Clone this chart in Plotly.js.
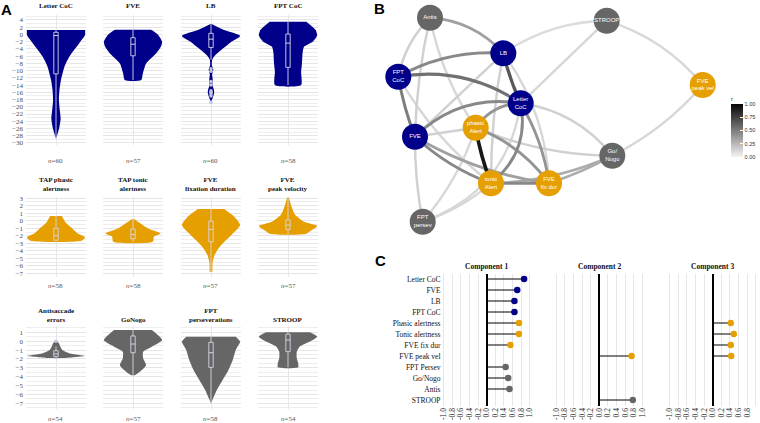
<!DOCTYPE html>
<html><head><meta charset="utf-8">
<script src="https://cdn.plot.ly/plotly-3.0.1.min.js"></script>
<style>body{margin:0;background:#fff}</style>
</head><body><div id="chart" style="width:760px;height:423px"></div>
<script>
// ================= Panel A data =================
const violinTitles = ["Letter CoC","FVE","LB","FPT CoC",
  "TAP phasic<br>alertness","TAP tonic<br>alertness","FVE<br>fixation duration","FVE<br>peak velocity",
  "Antisaccade<br>errors","GoNogo","FPT<br>perseverations","STROOP"];
const violinN = [60,57,60,58,58,58,57,57,54,57,58,54];
const violinGroup = [0,0,0,0,1,1,1,1,2,2,2,2];

// density outlines: value levels (top→bottom) and relative half-width
const letterCocLevels = [1.2,0,-0.6,-2.4,-6.1,-8.9,-12.6,-15.3,-18.1,-20.9,-23.2,-25.5,-27.3,-28.8];
const letterCocWidth  = [1.0,1.0,0.97,0.8,0.46,0.29,0.17,0.12,0.1,0.13,0.16,0.12,0.06,0.0];
const fveLevels = [1.3,0,-2.0,-3.5,-5.2,-8,-10.7,-12.6];
const fveWidth  = [0.62,0.85,1.0,0.95,0.8,0.45,0.34,0.28];
const lbLevels = [2.9,1.2,-0.4,-2,-4.3,-5.7,-7,-8.5,-9.7,-11,-12.5,-14,-15.3,-16.1,-17.5,-18.6];
const lbWidth  = [0.02,0.45,1.0,0.7,0.35,0.15,0.04,0.03,0.08,0.04,0.06,0.05,0.1,0.11,0.06,0.0];
const fptCocLevels = [3.5,1.2,-0.3,-2,-3.4,-5.2,-8,-10.3,-14];
const fptCocWidth  = [0.63,0.95,1.0,0.85,0.55,0.5,0.48,0.45,0.45];
const phasicLevels = [0.63,-0.35,-1.0,-1.7,-2.2,-2.66];
const phasicWidth  = [0.2,0.35,0.55,0.75,1.0,0.88];
const tonicLevels = [0.2,-0.35,-1.0,-1.7,-2.1,-2.8];
const tonicWidth  = [0.05,0.25,0.5,0.95,0.72,0.68];
const fixDurLevels = [1.56,0.53,-0.57,-1.9,-3.46,-4.6,-5.7,-6.8];
const fixDurWidth  = [0.45,0.8,1.0,0.7,0.3,0.12,0.05,0.04];
const peakVelLevels = [3.1,1.86,0.76,-0.13,-0.7,-1.3,-1.77];
const peakVelWidth  = [0.03,0.12,0.25,0.55,1.0,0.8,0.6];
const antisLevels = [0.0,-0.24,-0.62,-1.0,-1.36,-1.55,-1.67,-1.8,-1.9];
const antisWidth  = [0.03,0.1,0.15,0.22,0.45,0.8,1.0,0.6,0.25];
const goNogoLevels = [1.26,0.13,-0.62,-1.18,-1.93,-2.7,-3.25,-3.8];
const goNogoWidth  = [0.65,1.0,0.65,0.35,0.35,0.45,0.3,0.08];
const persevLevels = [0.51,-0.05,-1.0,-2.1,-3.25,-4.37,-5.5,-6.4,-7.0];
const persevWidth  = [0.85,1.0,0.85,0.75,0.6,0.4,0.2,0.08,0.0];
const stroopLevels = [1.0,0.5,-0.05,-0.62,-1.2,-1.93,-2.5,-2.95];
const stroopWidth  = [0.75,1.0,0.75,0.4,0.3,0.3,0.35,0.35];

const densityLevels = [letterCocLevels,fveLevels,lbLevels,fptCocLevels,phasicLevels,tonicLevels,
  fixDurLevels,peakVelLevels,antisLevels,goNogoLevels,persevLevels,stroopLevels];
const densityWidths = [letterCocWidth,fveWidth,lbWidth,fptCocWidth,phasicWidth,tonicWidth,
  fixDurWidth,peakVelWidth,antisWidth,goNogoWidth,persevWidth,stroopWidth];

// box statistics
const boxQ3  = [0.6,-0.9,0.3,0.1,-1.0,-1.1,-0.04,0.1,-1.07,0.59,-0.13,0.78];
const boxMed = [-0.3,-2.7,-1.3,-2.4,-2.0,-1.85,-1.15,-0.57,-1.44,-0.32,-1.3,0.13];
const boxQ1  = [-10.9,-5.9,-3.6,-9.1,-2.6,-2.4,-2.8,-1.15,-1.74,-1.3,-2.95,-1.18];
const boxLo  = [-28.8,-12.6,-7,-14,-2.66,-2.8,-6.8,-1.77,-1.9,-3.8,-7.0,-2.95];
const boxHi  = [1.2,1.3,2.9,3.5,0.63,0.2,1.56,3.1,-0.6,1.26,0.51,1.0];
const lbOutliers = [-9.5,-10.2,-13,-14,-15.6,-16,-16.4,-17,-18.8];
const antisOutliers = [0.0];

// ================= Panel B data =================
const nodeLabels = ["Antis","LB","FPT<br>CoC","Letter<br>CoC","phasic<br>Alert","FVE","tonic<br>Alert",
  "FVE<br>fix dur","FPT<br>persev","STROOP","FVE<br>peak vel","Go/<br>Nogo"];
const nodeX = [430,503.3,398.3,520.7,475.7,415,491,549,422.7,606.7,702.7,612.3];
const nodeY = [17.7,53.3,76.7,103.3,127.7,136.7,183.3,183.3,221.7,20.7,85,155.7];
const nodeGroup = [2,0,0,0,1,0,1,1,2,2,1,2];
const edgeFrom = [1,2,2,2,5,3,4,3,3,4,6,6,7,3,5,5,5,5,8,8,8,0,0,0,0,1,3,9,11,4,1,1,2,5];
const edgeTo   = [3,3,1,5,3,4,6,6,7,7,7,11,11,11,6,7,4,8,6,4,3,1,2,5,4,9,9,10,10,11,6,7,6,1];
const edgeR    = [0.65,0.55,0.45,0.5,0.45,0.4,0.92,0.45,0.4,0.4,0.45,0.3,0.3,0.15,0.45,0.35,0.15,0.15,0.12,0.12,0.12,0.35,0.15,0.15,0.12,0.1,0.12,0.12,0.12,0.15,0.15,0.12,0.12,0.15];
const edgeCurve= [0.05,-0.2,-0.15,0.05,-0.25,0.25,0.05,-0.3,-0.1,-0.15,0,0.1,0.05,-0.2,0.1,0.1,0,0.05,0.1,0.1,0.3,-0.2,0.15,0.05,0.1,-0.15,0,-0.15,0.1,0.1,0.05,-0.15,0.1,0];

// ================= Panel C data =================
const loadingLabels = ["Letter CoC","FVE","LB","FPT CoC","Phasic alertness","Tonic alertness",
  "FVE fix dur","FVE peak vel","FPT Persev","Go/Nogo","Antis","STROOP"];
const loadingGroup = [0,0,0,0,1,1,1,1,2,2,2,2];
const component1 = [0.87,0.71,0.645,0.645,0.75,0.75,0.55,null,0.44,0.5,0.53,null];
const component2 = [null,null,null,null,null,null,null,0.75,null,null,null,0.78];
const component3 = [null,null,null,null,0.42,0.49,0.42,0.43,null,null,null,null];
const componentTitles = ["Component 1","Component 2","Component 3"];
const loadingTicks = [-1,-0.8,-0.6,-0.4,-0.2,0,0.2,0.4,0.6,0.8,1];

// ================= build =================
const W = 760, H = 423;
const groupColors = ["#00008B","#E69F00","#666666"];
const serif = "Liberation Serif, Times New Roman, serif";
const sans = "Liberation Sans, Arial, sans-serif";
const fx = (a,b) => [a/W, b/W];
const fy = (t,b) => [1-b/H, 1-t/H];

const traces = [];
const layout = {width:W, height:H, margin:{l:0,r:0,t:0,b:0}, showlegend:false,
  paper_bgcolor:"#fff", plot_bgcolor:"rgba(0,0,0,0)", annotations:[], shapes:[]};

const colPx = [[26,86],[103,163],[181,241],[258,318]];
const rowPx = [[15,145],[197,277],[326,409]];
const rowRange = [[-30.57,5.38],[-7.49,3.16],[-7.64,1.71]];
const rowDtick = [2,1,1];
const titleBottomPx = [12,195,326];
const nY = [161,286,419];
const boxLine = "#d6d6e6";
const bw = 0.075;

for (let i=0;i<12;i++){
  const r = Math.floor(i/4), c = i%4, k = i+1;
  const xa = "x"+k, ya = "y"+k;
  const col = groupColors[violinGroup[i]];
  layout["xaxis"+k] = {domain:fx(...colPx[c]), range:[-1.03,1.03], anchor:ya,
    tickvals:[0], showticklabels:false, showgrid:true, gridcolor:"#e6e6e6", gridwidth:1,
    zeroline:false, showline:false, ticks:"", fixedrange:true};
  layout["yaxis"+k] = {domain:fy(...rowPx[r]), range:rowRange[r], anchor:xa,
    tick0:0, dtick:rowDtick[r], showgrid:true, gridcolor:"#e6e6e6", gridwidth:1,
    minor:{dtick:rowDtick[r]/2, showgrid:true, gridcolor:"#eeeeee", gridwidth:1},
    zeroline:false, showline:false, ticks:"", showticklabels:c===0,
    tickfont:{family:serif,size:7,color:"#4d4d4d"}, ticklabelstandoff:2, fixedrange:true};
  const lv = densityLevels[i], wd = densityWidths[i];
  const xs = wd.concat(wd.slice().reverse().map(v=>-v));
  const ys = lv.concat(lv.slice().reverse());
  traces.push({type:"scatter",mode:"lines",x:xs,y:ys,fill:"toself",fillcolor:col,
    line:{width:0,color:col,shape:"spline",smoothing:0.6},xaxis:xa,yaxis:ya,hoverinfo:"skip"});
  // box plot drawn on the same scales
  traces.push({type:"scatter",mode:"lines",x:[0,0,null,0,0],y:[boxHi[i],boxQ3[i],null,boxQ1[i],boxLo[i]],
    line:{color:boxLine,width:0.9},xaxis:xa,yaxis:ya,hoverinfo:"skip"});
  traces.push({type:"scatter",mode:"lines",x:[-bw,bw,bw,-bw,-bw],y:[boxQ1[i],boxQ1[i],boxQ3[i],boxQ3[i],boxQ1[i]],
    fill:"toself",fillcolor:col,line:{color:boxLine,width:0.9},xaxis:xa,yaxis:ya,hoverinfo:"skip"});
  traces.push({type:"scatter",mode:"lines",x:[-bw,bw],y:[boxMed[i],boxMed[i]],
    line:{color:boxLine,width:1},xaxis:xa,yaxis:ya,hoverinfo:"skip"});
  let outl = i===2 ? lbOutliers : (i===8 ? antisOutliers : null);
  if (outl) traces.push({type:"scatter",mode:"markers",x:outl.map(()=>0),y:outl,
    marker:{size:3.5,color:"#c4c4dc"},xaxis:xa,yaxis:ya,hoverinfo:"skip"});
  const cx = (colPx[c][0]+colPx[c][1])/2/W;
  layout.annotations.push({text:"<b>"+violinTitles[i]+"</b>",xref:"paper",yref:"paper",
    x:cx,y:1-titleBottomPx[r]/H,xanchor:"center",yanchor:"bottom",showarrow:false,
    font:{family:serif,size:7,color:"#111"}});
  layout.annotations.push({text:"<i>n</i>=" + violinN[i],xref:"paper",yref:"paper",
    x:cx,y:1-nY[r]/H,xanchor:"center",yanchor:"middle",showarrow:false,
    font:{family:serif,size:7,color:"#555"}});
}

// ---- Panel B network ----
const nb = 13;
layout["xaxis"+nb] = {domain:fx(330,760), range:[330,760], anchor:"y"+nb, visible:false, fixedrange:true};
layout["yaxis"+nb] = {domain:fy(0,250), range:[250,0], anchor:"x"+nb, visible:false, fixedrange:true};
const greyScale = [[0,"#f4f4f4"],[1,"#050505"]];
function greyOf(r){ const v = Math.round(244 - r*(244-5)); return `rgb(${v},${v},${v})`; }
const order = edgeR.map((r,i)=>i).sort((a,b)=>edgeR[a]-edgeR[b]);
for (const e of order){
  const a = edgeFrom[e], b = edgeTo[e];
  const x0=nodeX[a], y0=nodeY[a], x1=nodeX[b], y1=nodeY[b];
  const dx=x1-x0, dy=y1-y0, L=Math.hypot(dx,dy);
  const px=-dy/L, py=dx/L, k=edgeCurve[e]*L;
  const cx=(x0+x1)/2+px*k, cy=(y0+y1)/2+py*k;
  layout.shapes.push({type:"path",xref:"x"+nb,yref:"y"+nb,layer:"below",
    path:`M ${x0},${y0} Q ${cx},${cy} ${x1},${y1}`,
    line:{color:greyOf(edgeR[e]),width:2.2+1.6*edgeR[e]}});
}
traces.push({type:"scatter",mode:"markers+text",x:nodeX,y:nodeY,text:nodeLabels,
  textposition:"middle center",textfont:{family:sans,size:6,color:"#ffffff"},
  marker:{size:26,color:nodeGroup.map(g=>groupColors[g]),line:{width:0}},
  xaxis:"x"+nb,yaxis:"y"+nb,hoverinfo:"skip",cliponaxis:false});
traces.push({type:"scatter",mode:"markers",x:[0],y:[-999],xaxis:"x"+nb,yaxis:"y"+nb,
  marker:{size:1,color:[0],cmin:0,cmax:1,colorscale:greyScale,showscale:true,
    colorbar:{x:731/W,xanchor:"left",y:1-125/H,yanchor:"middle",len:64/H,lenmode:"fraction",
      thickness:12,outlinewidth:0,xpad:0,ypad:0,tickvals:[0,0.25,0.5,0.75,1],
      ticktext:["0.00","0.25","0.50","0.75","1.00"],ticks:"inside",ticklen:3,tickcolor:"#ffffff",
      tickfont:{family:sans,size:5.5,color:"#333"},
      title:{text:"r",side:"top",font:{family:sans,size:6,color:"#333"}}}},hoverinfo:"skip"});

// ---- Panel C lollipops ----
const comps = [component1,component2,component3];
const zeroPx = [486.7,599.3,712.7];
const unitPx = 43;
for (let j=0;j<3;j++){
  const k = 14+j, xa="x"+k, ya="y"+k;
  layout["xaxis"+k] = {domain:fx(zeroPx[j]-1.05*unitPx, zeroPx[j]+1.05*unitPx), range:[-1.05,1.05], anchor:ya,
    tickvals:loadingTicks, ticktext:loadingTicks.map(v=>v.toFixed(1)), tickangle:-90,
    tickfont:{family:serif,size:7.5,color:"#222"}, showgrid:true, gridcolor:"#e6e6e6", gridwidth:1,
    zeroline:true, zerolinecolor:"#000", zerolinewidth:1.6, showline:false, ticks:"", fixedrange:true};
  layout["yaxis"+k] = {domain:fy(273.5,405.5), type:"category", categoryarray:loadingLabels,
    categoryorder:"array", range:[11.5,-0.5], anchor:xa, showgrid:false, zeroline:false,
    showticklabels:j===0, ticks:"", tickfont:{family:serif,size:7.5,color:"#111"}, fixedrange:true};
  const vals = comps[j];
  const lx=[], ly=[], mx=[], my=[], mc=[];
  vals.forEach((v,i)=>{ if(v!==null){ lx.push(0,v,null); ly.push(loadingLabels[i],loadingLabels[i],null);
    mx.push(v); my.push(loadingLabels[i]); mc.push(groupColors[loadingGroup[i]]); }});
  traces.push({type:"scatter",mode:"lines",x:lx,y:ly,line:{color:"#000",width:1},xaxis:xa,yaxis:ya,hoverinfo:"skip"});
  traces.push({type:"scatter",mode:"markers",x:mx,y:my,marker:{size:6.5,color:mc},xaxis:xa,yaxis:ya,hoverinfo:"skip",cliponaxis:false});
  layout.annotations.push({text:"<b>"+componentTitles[j]+"</b>",xref:"paper",yref:"paper",
    x:zeroPx[j]/W,y:1-266/H,xanchor:"center",yanchor:"middle",showarrow:false,
    font:{family:serif,size:7.5,color:"#111"}});
}

// panel letters
[["A",7,9],["B",379,8],["C",380,260]].forEach(([t,x,y])=>layout.annotations.push({text:"<b>"+t+"</b>",
  xref:"paper",yref:"paper",x:x/W,y:1-y/H,xanchor:"center",yanchor:"middle",showarrow:false,
  font:{family:sans,size:15,color:"#000"}}));

Plotly.newPlot("chart",traces,layout,{displayModeBar:false,staticPlot:true});
</script></body></html>
